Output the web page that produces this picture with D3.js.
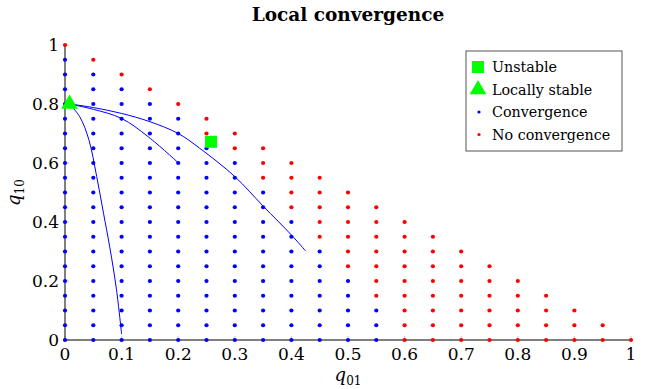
<!DOCTYPE html>
<html>
<head>
  <meta charset="utf-8">
  <title>Local convergence</title>
  <style>
    body { margin: 0; background: #fff; }
  </style>
</head>
<body>
  <script src="https://cdn.jsdelivr.net/npm/d3@7"></script>
  <script>
    // grid of tested starting points (q01 columns, q10 rows)
    const q01Grid = [0, 0.05, 0.1, 0.15, 0.2, 0.25, 0.3, 0.35, 0.4, 0.45, 0.5,
                     0.55, 0.6, 0.65, 0.7, 0.75, 0.8, 0.85, 0.9, 0.95, 1];
    const q10Grid = [0, 0.05, 0.1, 0.15, 0.2, 0.25, 0.3, 0.35, 0.4, 0.45, 0.5,
                     0.55, 0.6, 0.65, 0.7, 0.75, 0.8, 0.85, 0.9, 0.95, 1];
    // highest q10 tested in each column
    const colTop = [1, 0.95, 0.9, 0.85, 0.8, 0.75, 0.7, 0.65, 0.6, 0.55, 0.5,
                    0.45, 0.4, 0.35, 0.3, 0.25, 0.2, 0.15, 0.1, 0.05, 0];
    // from this q10 upward the run does not converge
    const noConvFrom = [1, 0.95, 0.9, 0.85, 0.8, 0.7, 0.65, 0.55, 0.45, 0.35, 0.25,
                        0.15, 0, 0, 0, 0, 0, 0, 0, 0, 0];

    const unstable = [[0.258, 0.672]];
    const stable = [[0.008, 0.8]];

    // trajectories
    const path1 = [[0.008, 0.8], [0.026, 0.757], [0.042, 0.68], [0.056, 0.554],
                   [0.068, 0.43], [0.079, 0.316], [0.091, 0.17], [0.1, 0.02]];
    const path2 = [[0.008, 0.8], [0.05, 0.782], [0.1, 0.751], [0.147, 0.689],
                   [0.2, 0.601]];
    const path3 = [[0.008, 0.8], [0.05, 0.788], [0.1, 0.768], [0.15, 0.74],
                   [0.2, 0.70], [0.238, 0.65], [0.3, 0.554], [0.35, 0.454],
                   [0.4, 0.356], [0.425, 0.302]];

    const xTicks = [0, 0.1, 0.2, 0.3, 0.4, 0.5, 0.6, 0.7, 0.8, 0.9, 1];
    const yTicks = [0, 0.2, 0.4, 0.6, 0.8, 1];

    const W = 645, H = 389;
    const FONT = "'DejaVu Serif', serif";
    const x = d3.scaleLinear().domain([0, 1]).range([65, 631]);
    const y = d3.scaleLinear().domain([0, 1]).range([340, 45]);

    const svg = d3.select("body").append("svg")
      .attr("width", W).attr("height", H)
      .attr("font-family", FONT);

    // build points
    const pts = [];
    q01Grid.forEach(function (a, i) {
      q10Grid.forEach(function (b) {
        if (b <= colTop[i] + 1e-9) {
          pts.push({x: a, y: b, ok: b < noConvFrom[i] - 1e-9});
        }
      });
    });

    // ticks (inward, light)
    svg.append("g").selectAll("line").data(xTicks).enter().append("line")
      .attr("x1", d => x(d)).attr("x2", d => x(d))
      .attr("y1", y(0)).attr("y2", y(0) - 4)
      .attr("stroke", "#bbb").attr("stroke-width", 0.8);
    svg.append("g").selectAll("line").data(yTicks).enter().append("line")
      .attr("x1", x(0)).attr("x2", x(0) + 4)
      .attr("y1", d => y(d)).attr("y2", d => y(d))
      .attr("stroke", "#bbb").attr("stroke-width", 0.8);

    // axis lines
    svg.append("line").attr("x1", x(0)).attr("x2", x(1))
      .attr("y1", y(0)).attr("y2", y(0)).attr("stroke", "#000").attr("stroke-width", 1);
    svg.append("line").attr("x1", x(0)).attr("x2", x(0))
      .attr("y1", y(0)).attr("y2", y(1)).attr("stroke", "#000").attr("stroke-width", 1);

    // tick labels
    svg.append("g").selectAll("text").data(xTicks).enter().append("text")
      .attr("x", d => x(d)).attr("y", y(0) + 20)
      .attr("text-anchor", "middle").attr("font-size", 17)
      .text(d => d3.format("~g")(d));
    svg.append("g").selectAll("text").data(yTicks).enter().append("text")
      .attr("x", x(0) - 6).attr("y", d => y(d) + 6)
      .attr("text-anchor", "end").attr("font-size", 17)
      .text(d => d3.format("~g")(d));

    // trajectories
    const line = d3.line().x(d => x(d[0])).y(d => y(d[1])).curve(d3.curveCatmullRom);
    [path1, path2, path3].forEach(function (p) {
      svg.append("path").attr("d", line(p))
        .attr("fill", "none").attr("stroke", "#0000ff").attr("stroke-width", 1);
    });

    // grid points
    svg.append("g").selectAll("circle").data(pts).enter().append("circle")
      .attr("cx", d => x(d.x)).attr("cy", d => y(d.y)).attr("r", 2.1)
      .attr("fill", d => d.ok ? "#0000ff" : "#ff0000");

    // markers
    svg.selectAll(".sq").data(unstable).enter().append("rect")
      .attr("x", d => x(d[0]) - 6).attr("y", d => y(d[1]) - 6)
      .attr("width", 12).attr("height", 12).attr("fill", "#00ff00");
    const tri = d3.symbol().type(d3.symbolTriangle).size(120);
    svg.selectAll(".tri").data(stable).enter().append("path")
      .attr("d", tri).attr("transform", d => "translate(" + x(d[0]) + "," + y(d[1]) + ")")
      .attr("fill", "#00ff00");

    // axis titles
    const xl = svg.append("text").attr("x", x(0.5)).attr("y", 381)
      .attr("text-anchor", "middle").attr("font-size", 18);
    xl.append("tspan").attr("font-style", "italic").text("q");
    xl.append("tspan").attr("font-size", 12).attr("dy", 4).text("01");

    const yl = svg.append("text").attr("transform", "translate(20," + y(0.5) + ") rotate(-90)")
      .attr("text-anchor", "middle").attr("font-size", 18);
    yl.append("tspan").attr("font-style", "italic").text("q");
    yl.append("tspan").attr("font-size", 12).attr("dy", 4).text("10");

    // title
    svg.append("text").attr("x", 348).attr("y", 21)
      .attr("text-anchor", "middle").attr("font-size", 18.5).attr("font-weight", "bold")
      .text("Local convergence");

    // legend
    const lg = svg.append("g").attr("transform", "translate(466,51)");
    lg.append("rect").attr("width", 156).attr("height", 100)
      .attr("fill", "#fff").attr("stroke", "#555").attr("stroke-width", 1);
    const names = ["Unstable", "Locally stable", "Convergence", "No convergence"];
    names.forEach(function (n, i) {
      const cy = 16 + i * 22.5;
      if (i === 0) lg.append("rect").attr("x", 6).attr("y", cy - 6).attr("width", 12).attr("height", 12).attr("fill", "#00ff00");
      if (i === 1) lg.append("path").attr("d", tri).attr("transform", "translate(12," + cy + ")").attr("fill", "#00ff00");
      if (i === 2) lg.append("circle").attr("cx", 13).attr("cy", cy).attr("r", 1.6).attr("fill", "#0000ff");
      if (i === 3) lg.append("circle").attr("cx", 13).attr("cy", cy).attr("r", 1.6).attr("fill", "#ff0000");
      lg.append("text").attr("x", 26).attr("y", cy + 5).attr("font-size", 14.3).text(n);
    });
  </script>
</body>
</html>
